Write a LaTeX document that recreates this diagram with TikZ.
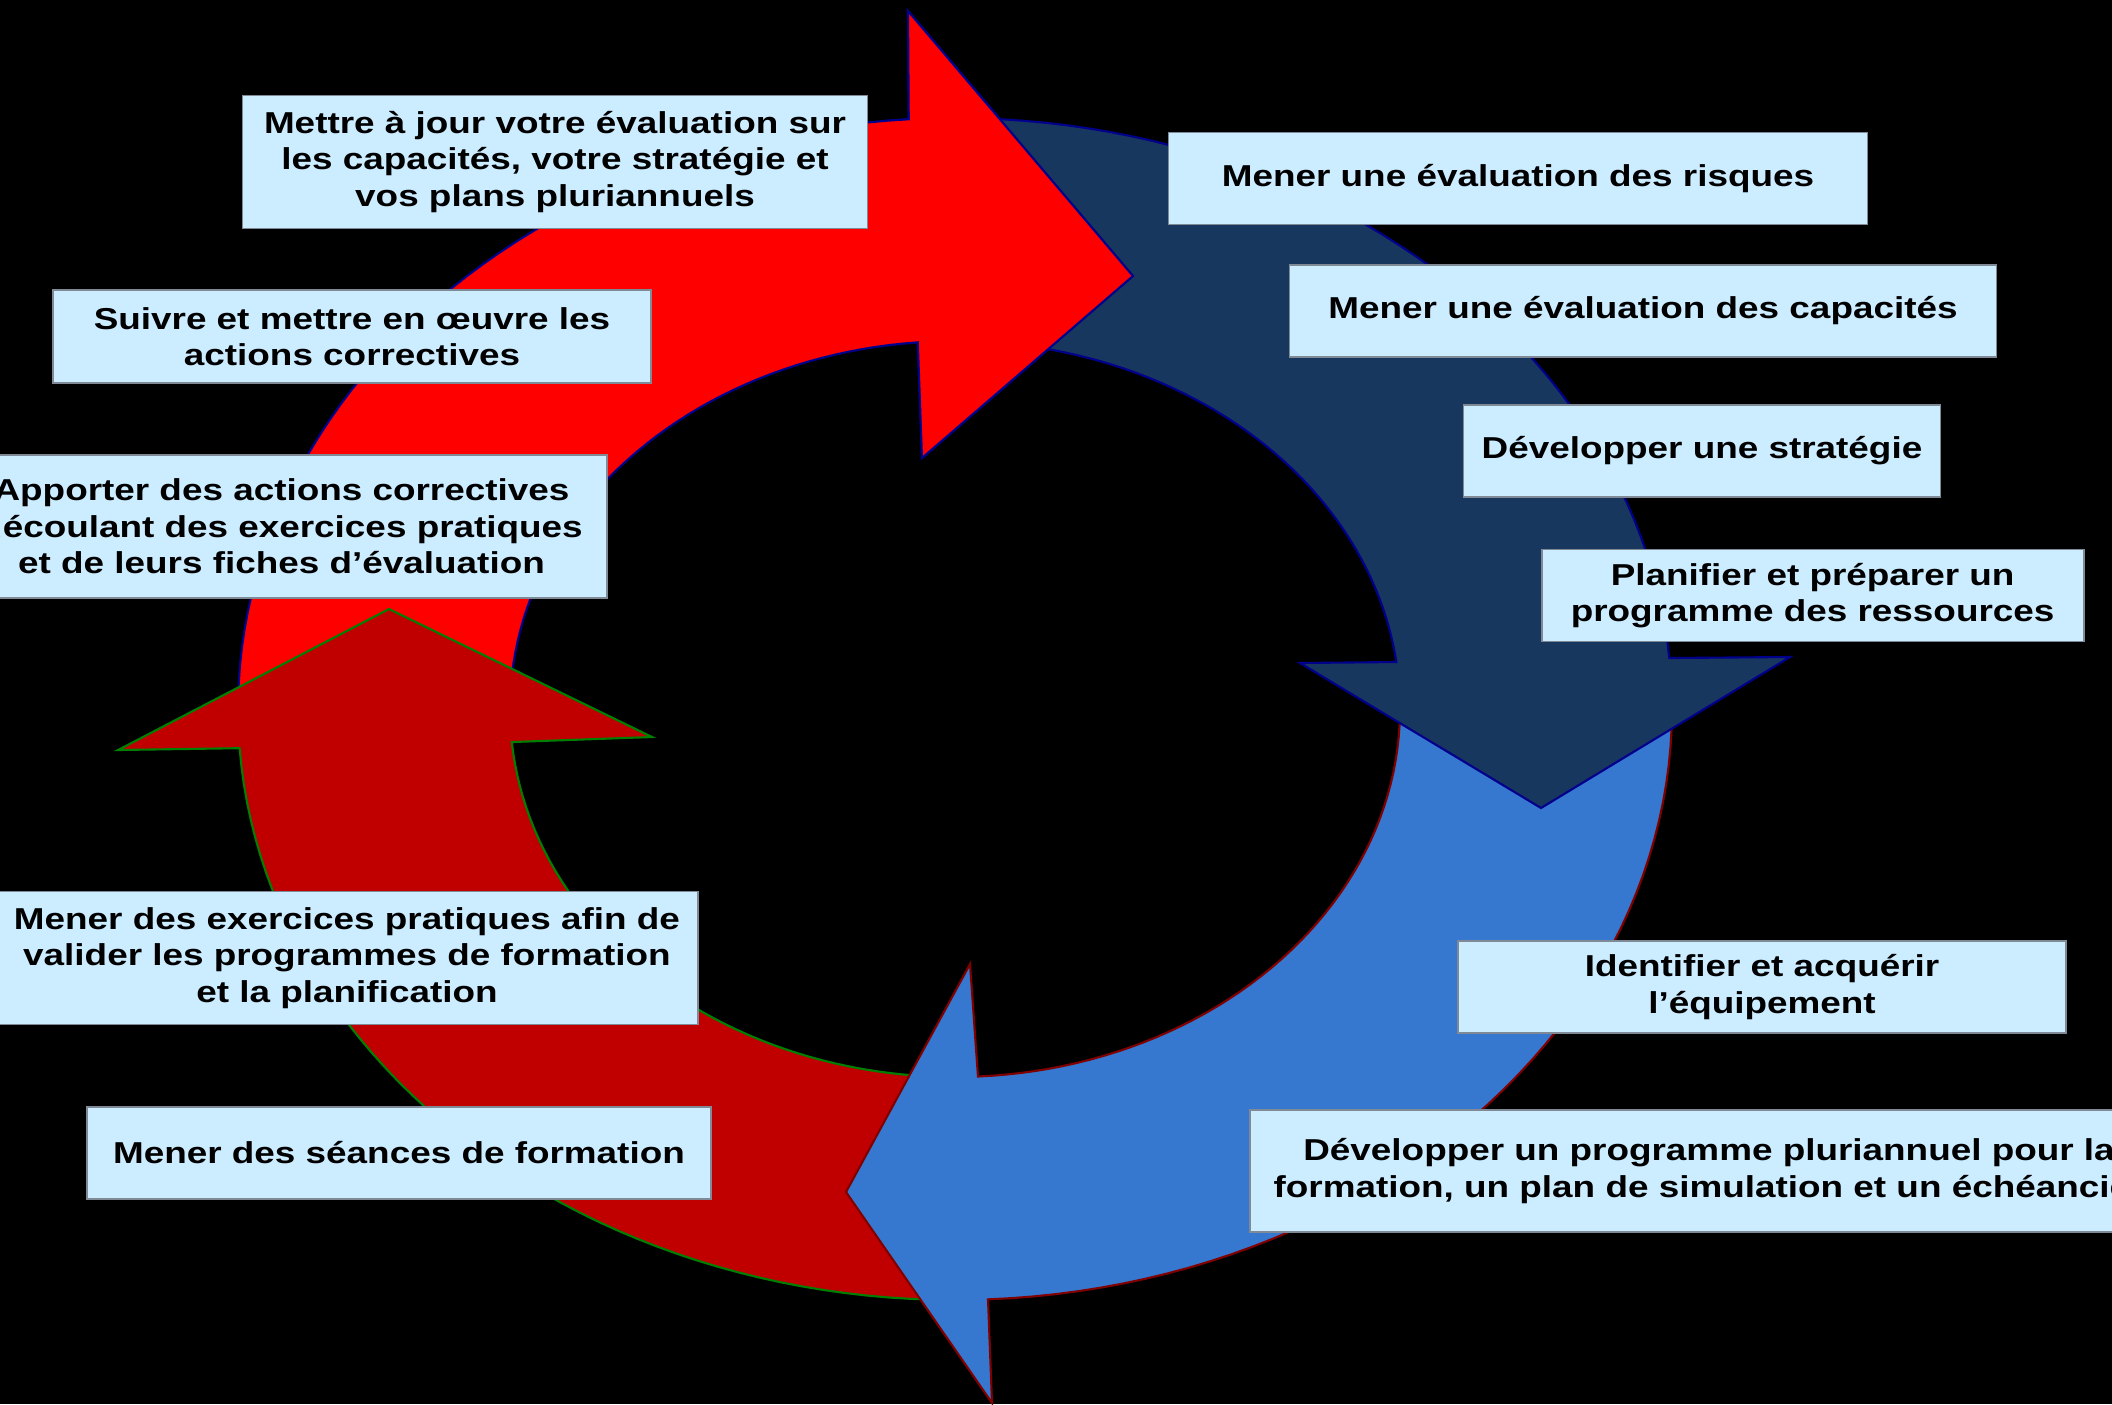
\documentclass[tikz,border=0pt]{standalone}
\usepackage{fontspec}
\setmainfont[FakeStretch=1.22]{Liberation Sans}
\usepackage{tikz}
\usetikzlibrary{positioning}
\definecolor{redfill}{HTML}{FF0000}
\definecolor{navyfill}{HTML}{17375E}
\definecolor{bluefill}{HTML}{3677CF}
\definecolor{darkredfill}{HTML}{C00000}
\definecolor{navyline}{HTML}{00008C}
\definecolor{boxfill}{HTML}{CCECFF}
\definecolor{boxline}{HTML}{7F8A96}
\newcommand{\boxfont}{\fontsize{8.6}{10.4}\selectfont\bfseries}

\begin{document}
\begin{tikzpicture}[x=0.1mm,y=-0.1mm,line join=miter,
    redarrow/.style={fill=redfill,draw=navyline,line width=0.6pt},
    navyarrow/.style={fill=navyfill,draw=navyline,line width=0.6pt},
    bluearrow/.style={fill=bluefill,draw={rgb,255:red,128;green,0;blue,0},line width=0.6pt},
    darkredarrow/.style={fill=darkredfill,draw={rgb,255:red,0;green,128;blue,0},line width=0.6pt},
    stage/.style={draw=boxline,fill=boxfill,line width=0.5pt,align=center,inner sep=0pt,font=\boxfont}]
  % background
  \fill[black] (0,0) rectangle (2112,1404);
  \useasboundingbox (0,0) rectangle (2112,1404);

  % red arrow: left side up to the top
  \filldraw[redarrow] plot[domain=178.9:266.3,samples=50] ({955+717*cos(\x)},{709+591*sin(\x)})
    -- (908,11) -- (1133,276) -- (922,458)
    -- plot[domain=265.2:178.3,samples=50] ({955+445*cos(\x)},{709+368*sin(\x)}) -- cycle;
  % dark red arrow: bottom up to the left
  \filldraw[darkredarrow] plot[domain=90:176.2,samples=50] ({955+717*cos(\x)},{709+591*sin(\x)})
    -- (118,750) -- (389,609) -- (652,737)
    -- plot[domain=174.85:90,samples=50] ({955+445*cos(\x)},{709+368*sin(\x)}) -- cycle;
  % blue arrow: right side down to the bottom
  \filldraw[bluearrow] plot[domain=-1.84:87.36,samples=50] ({955+717*cos(\x)},{709+591*sin(\x)})
    -- (992,1403) -- (846,1192) -- (970,964)
    -- plot[domain=87.04:-2.96,samples=50] ({955+445*cos(\x)},{709+368*sin(\x)}) -- cycle;
  % navy arrow: top down to the right
  \filldraw[navyarrow] plot[domain=270.4:355.05,samples=50] ({955+717*cos(\x)},{709+591*sin(\x)})
    -- (1790,657) -- (1541,808) -- (1300,663)
    -- plot[domain=352.66:270.64,samples=50] ({955+445*cos(\x)},{709+368*sin(\x)}) -- cycle;
  % red head again, over the navy tail
  \begin{scope}
    \clip (880,0) rectangle (1200,480);
    \filldraw[redarrow] plot[domain=178.9:266.3,samples=50] ({955+717*cos(\x)},{709+591*sin(\x)})
      -- (908,11) -- (1133,276) -- (922,458)
      -- plot[domain=265.2:178.3,samples=50] ({955+445*cos(\x)},{709+368*sin(\x)}) -- cycle;
  \end{scope}

  % stages
  \node[stage,minimum width=62.5mm,minimum height=13.3mm] (update) at (555,162)
    {Mettre à jour votre évaluation sur\\les capacités, votre stratégie et\\vos plans pluriannuels};
  \node[stage,minimum width=69.9mm,minimum height=9.2mm] (risks) at (1518,178.5)
    {Mener une évaluation des risques};
  \node[stage,minimum width=70.7mm,minimum height=9.2mm] (capacities) at (1643,311)
    {Mener une évaluation des capacités};
  \node[stage,minimum width=47.7mm,minimum height=9.2mm] (strategy) at (1702,451)
    {Développer une stratégie};
  \node[stage,minimum width=54.2mm,minimum height=9.2mm] (resources) at (1812.6,595.5)
    {Planifier et préparer un\\programme des ressources};
  \node[stage,minimum width=60.75mm,minimum height=9.25mm] (equipment) at (1762,987)
    {Identifier et acquérir\\l’équipement};
  \node[stage,minimum width=91.8mm,minimum height=12.2mm] (program) at (1709,1171)
    {Développer un programme pluriannuel pour la\\formation, un plan de simulation et un échéancier};
  \node[stage,minimum width=62.4mm,minimum height=9.2mm] (sessions) at (399,1152.6)
    {Mener des séances de formation};
  \node[stage,minimum width=70.2mm,minimum height=13.3mm] (exercises) at (347,958)
    {Mener des exercices pratiques afin de\\valider les programmes de formation\\et la planification};
  \node[stage,minimum width=65.1mm,minimum height=14.3mm] (corrective) at (281.5,526.5)
    {Apporter des actions correctives\\découlant des exercices pratiques\\et de leurs fiches d’évaluation};
  \node[stage,minimum width=59.8mm,minimum height=9.3mm] (follow) at (352,336.5)
    {Suivre et mettre en œuvre les\\actions correctives};
\end{tikzpicture}
\end{document}
